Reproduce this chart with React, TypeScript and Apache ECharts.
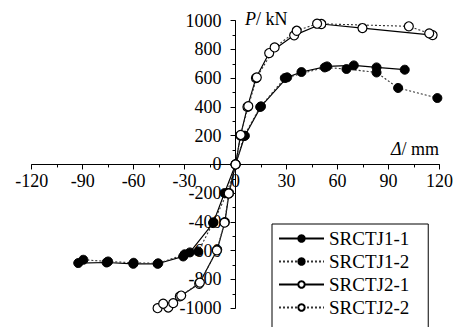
import React, { useEffect, useRef } from "react";
import * as echarts from "echarts";

// Skeleton curves: [displacement Δ (mm), load P (kN)]
const seriesNames = ["SRCTJ1-1", "SRCTJ1-2", "SRCTJ2-1", "SRCTJ2-2"];

const srctj1_1: [number, number][] = [
  [-92.6, -686], [-75.9, -682], [-60.2, -691], [-45.9, -691], [-30.8, -640],
  [-26.9, -612], [-13.2, -408], [-6.5, -199], [0, 0], [5.5, 200], [15, 404],
  [30.4, 606], [38.8, 643], [53.9, 682], [69.6, 689], [83, 675], [99.6, 659],
];

const srctj1_2: [number, number][] = [
  [-89.6, -663], [-75, -675], [-60, -684], [-45.5, -688], [-30, -625],
  [-22, -605], [-13, -402], [-5, -200], [0, 0], [5, 198], [14.5, 400],
  [29, 601], [52.5, 675], [65.3, 664], [83, 640], [95.7, 532], [118.8, 462],
];

const srctj2_1: [number, number][] = [
  [-45.9, -1000], [-39.6, -995], [-32.8, -918], [-21.4, -830], [-10.8, -594],
  [-6.3, -401], [-3.8, -199], [0, 0], [2.9, 200], [7, 400], [12, 601],
  [19.8, 775], [34.5, 898], [50.5, 977], [74.7, 949], [116, 900],
];

const srctj2_2: [number, number][] = [
  [-42.6, -969], [-36.7, -965], [-32, -912], [-21, -822], [-11, -598],
  [-6.5, -405], [-4, -202], [0, 0], [3, 205], [7.5, 405], [12.5, 605],
  [23, 814], [36, 930], [48, 979], [102, 961], [114, 912],
];

const xRange = { min: -120, max: 120, step: 30 };
const yRange = { min: -1000, max: 1000, step: 200 };

const FONT = '"Liberation Serif", "Times New Roman", serif';

// plot area inside the 455 x 327 canvas
const W = 455;
const H = 327;
const gridBox = { left: 31.7, right: 15.6, top: 20.7, bottom: 18.8 };

export default function App() {
  const ref = useRef<HTMLDivElement>(null);

  useEffect(() => {
    if (!ref.current) return;
    const chart = echarts.init(ref.current, undefined, { renderer: "svg" });

    const solid = { color: "#000", width: 1.2, type: "solid" as const };
    const dotted = { color: "#333", width: 1.1, type: [2, 2] as any };
    const filled = { color: "#000", borderColor: "#000", borderWidth: 1 };
    const open = { color: "#fff", borderColor: "#000", borderWidth: 1.2 };

    const makeSeries = (name: string, data: [number, number][], line: any, item: any) => ({
      name,
      type: "line",
      data,
      symbol: "circle",
      symbolSize: 9,
      lineStyle: line,
      itemStyle: item,
      emphasis: { disabled: true },
    });

    const axisText = {
      color: "#000",
      fontFamily: FONT,
      fontSize: 18,
      formatter: (v: number) => String(v),
      showMinLabel: true,
      showMaxLabel: true,
      hideOverlap: false,
    };

    const axisCommon = {
      type: "value",
      axisLine: { show: true, onZero: false, lineStyle: { color: "#000", width: 1 } },
      axisTick: { show: true, length: 5, lineStyle: { color: "#000" } },
      minorTick: { show: true, splitNumber: 2, length: 3, lineStyle: { color: "#000" } },
      splitLine: { show: false },
    };

    // shift each axis from the grid edge to the other axis's zero
    const plotW = W - gridBox.left - gridBox.right;
    const plotH = H - gridBox.top - gridBox.bottom;
    const xZeroFrac = (0 - xRange.min) / (xRange.max - xRange.min);
    const yZeroFrac = (0 - yRange.min) / (yRange.max - yRange.min);

    const nameRich = { i: { fontStyle: "italic", fontFamily: FONT, fontSize: 18 } };

    chart.setOption({
      animation: false,
      backgroundColor: "#fff",
      textStyle: { fontFamily: FONT },
      grid: { ...gridBox, containLabel: false, outerBoundsMode: "none" },
      xAxis: {
        ...axisCommon,
        position: "bottom",
        offset: -plotH * yZeroFrac,
        min: xRange.min,
        max: xRange.max,
        interval: xRange.step,
        axisLabel: { ...axisText, margin: 8 },
      },
      yAxis: {
        ...axisCommon,
        position: "left",
        offset: -plotW * xZeroFrac,
        min: yRange.min,
        max: yRange.max,
        interval: yRange.step,
        axisLabel: { ...axisText, margin: 14 },
      },
      legend: {
        data: seriesNames,
        orient: "vertical",
        left: 272,
        top: 224,
        height: 140,
        itemWidth: 45,
        itemHeight: 8,
        itemGap: 4,
        padding: [5, 19, 14, 6],
        borderColor: "#000",
        borderWidth: 1,
        backgroundColor: "#fff",
        textStyle: { color: "#000", fontFamily: FONT, fontSize: 19 },
      },
      graphic: [
        {
          type: "text",
          left: 245,
          top: 10,
          style: {
            text: "{i|P}/ kN",
            fill: "#000",
            fontFamily: FONT,
            fontSize: 18,
            rich: nameRich,
          },
        },
        {
          type: "text",
          left: 391,
          top: 140,
          style: {
            text: "{i|Δ}/ mm",
            fill: "#000",
            fontFamily: FONT,
            fontSize: 18,
            rich: nameRich,
          },
        },
      ],
      series: [
        makeSeries(seriesNames[0], srctj1_1, solid, filled),
        makeSeries(seriesNames[1], srctj1_2, dotted, filled),
        makeSeries(seriesNames[2], srctj2_1, solid, open),
        makeSeries(seriesNames[3], srctj2_2, dotted, open),
      ],
    });

    return () => chart.dispose();
  }, []);

  return (
    <div
      ref={ref}
      style={{ position: "fixed", left: 0, top: 0, width: W, height: H }}
    />
  );
}
